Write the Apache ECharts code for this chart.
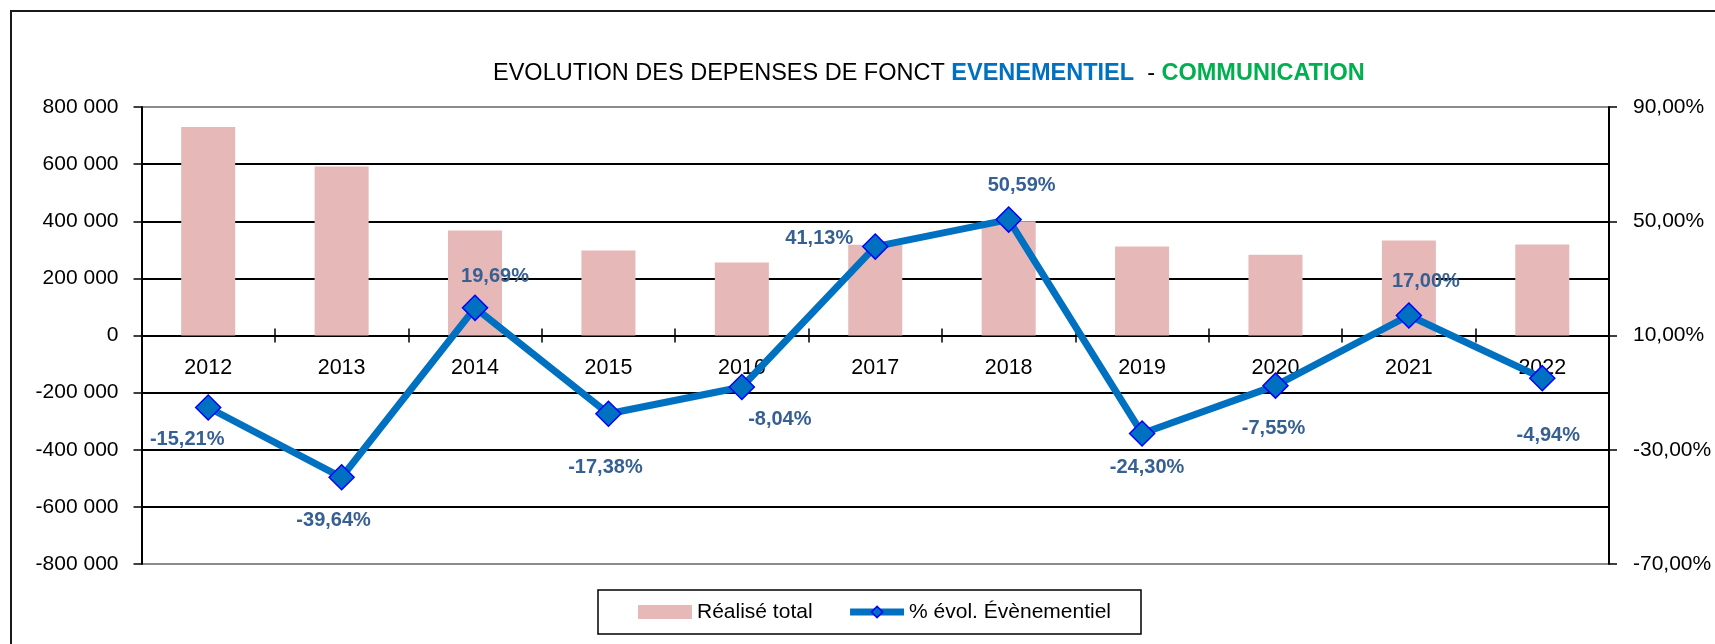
<!DOCTYPE html>
<html>
<head>
<meta charset="utf-8">
<script src="https://cdn.jsdelivr.net/npm/echarts@6/dist/echarts.min.js"></script>
<style>
html,body{margin:0;padding:0;background:#fff;}
#chart{width:1715px;height:644px;}
</style>
</head>
<body>
<div id="chart"></div>
<script>
const years = ['2012','2013','2014','2015','2016','2017','2018','2019','2020','2021','2022'];
const realiseTotal = [730000, 592000, 368000, 298000, 256000, 318000, 400000, 312000, 283000, 333000, 319000];
const evolEvenementiel = [-15.21, -39.64, 19.69, -17.38, -8.04, 41.13, 50.59, -24.30, -7.55, 17.00, -4.94];
const leftTicks = [-800000, -600000, -400000, -200000, 0, 200000, 400000, 600000, 800000];
const rightTicks = [-70, -30, 10, 50, 90];

// label nudges (style only): offset of each data label from its marker centre
const labelNudge = [[-21,32],[-8,43],[20,-31],[-3,54],[38,32],[-56,-8],[13,-34],[5,34],[-2,43],[17,-34],[6,57]];

const FONT = "'Liberation Sans', Arial, sans-serif";
const GRID_TOP = 107, GRID_BOTTOM = 80, CHART_H = 644;
// distance from plot bottom to the zero line (zero is the middle of -800k..800k)
const ZERO_OFFSET = -((CHART_H - GRID_TOP - GRID_BOTTOM) / 2);

function fmtThousands(v){
  if (v === 0) return '0';
  const s = Math.abs(v).toString().replace(/\B(?=(\d{3})+(?!\d))/g, ' ');
  return (v < 0 ? '-' : '') + s;
}
function fmtPct(v){ return v.toFixed(2).replace('.', ',') + '%'; }

const chart = echarts.init(document.getElementById('chart'), null, {renderer:'canvas'});

const lineData = evolEvenementiel.map((v, i) => ({
  value: v,
  label: { offset: labelNudge[i] }
}));

const option = {
  backgroundColor: '#ffffff',
  animation: false,
  textStyle: { fontFamily: FONT },
  title: {
    left: 488,
    top: 55,
    text: '{n|EVOLUTION DES DEPENSES DE FONCT }{b|EVENEMENTIEL}{n|  - }{g|COMMUNICATION}',
    textStyle: {
      fontWeight: 'normal',
      rich: {
        n: { fontFamily: FONT, fontSize: 23.5, fontWeight: 'normal', color: '#000', lineHeight: 28 },
        b: { fontFamily: FONT, fontSize: 23.5, fontWeight: 'bold', color: '#0070C0', lineHeight: 28 },
        g: { fontFamily: FONT, fontSize: 23.5, fontWeight: 'bold', color: '#00B050', lineHeight: 28 }
      }
    }
  },
  graphic: [{
    type: 'rect',
    shape: { x: 11, y: 11, width: 1720, height: 700 },
    style: { fill: null, stroke: '#1a1a1a', lineWidth: 2 },
    silent: true, z: 100
  }],
  legend: {
    left: 598,
    top: 590,
    padding: [11, 30, 11, 40],
    borderColor: '#000',
    borderWidth: 1.5,
    itemGap: 34,
    itemWidth: 54,
    itemHeight: 14,
    textStyle: { fontFamily: FONT, fontSize: 21, color: '#000', lineHeight: 22, height: 22 },
    data: [
      { name: 'Réalisé total', icon: 'rect', itemStyle: { color: '#E6B8B7' } },
      { name: '% évol. Évènementiel',
        lineStyle: { color: '#0070C0', width: 7 },
        itemStyle: { color: '#0070C0', borderColor: '#0000FF', borderWidth: 1.5 } }
    ]
  },
  grid: {
    left: 141.5,
    right: 106,
    top: GRID_TOP,
    bottom: GRID_BOTTOM,
    containLabel: false
  },
  xAxis: [
    {
      type: 'category',
      data: years,
      position: 'bottom',
      offset: ZERO_OFFSET,
      axisLine: { onZero: false, lineStyle: { color: '#000', width: 2 } },
      axisTick: { show: true, inside: false, length: 7, lineStyle: { color: '#000', width: 1.5 } },
      axisLabel: { fontFamily: FONT, fontSize: 21.5, color: '#000', margin: 22 },
      splitLine: { show: false }
    },
    {
      type: 'category',
      data: years,
      position: 'bottom',
      offset: ZERO_OFFSET,
      axisLine: { show: false, onZero: false },
      axisTick: { show: true, inside: true, length: 7, lineStyle: { color: '#000', width: 1.5 } },
      axisLabel: { show: false },
      splitLine: { show: false }
    }
  ],
  yAxis: [
    {
      type: 'value',
      min: -800000,
      max: 800000,
      interval: 200000,
      position: 'left',
      axisLine: { show: true, lineStyle: { color: '#000', width: 2 } },
      axisTick: { show: true, length: 8, lineStyle: { color: '#000', width: 1.5 } },
      axisLabel: { fontFamily: FONT, fontSize: 21, color: '#000', margin: 23,
        customValues: leftTicks, formatter: fmtThousands },
      splitLine: { show: true, lineStyle: { color: ['#8c8c8c','#000','#000','#000','#000','#000','#000','#000','#8c8c8c'], width: 2 } }
    },
    {
      type: 'value',
      min: -70,
      max: 90,
      position: 'right',
      axisLine: { show: true, lineStyle: { color: '#000', width: 2 } },
      axisTick: { show: true, length: 8, customValues: rightTicks, lineStyle: { color: '#000', width: 1.5 } },
      axisLabel: { fontFamily: FONT, fontSize: 21, color: '#000', margin: 24,
        customValues: rightTicks, formatter: fmtPct },
      splitLine: { show: false }
    }
  ],
  series: [
    {
      name: 'Réalisé total',
      type: 'bar',
      xAxisIndex: 0,
      yAxisIndex: 0,
      data: realiseTotal,
      barWidth: '40.5%',
      itemStyle: { color: '#E6B8B7' },
      z: 2
    },
    {
      name: '% évol. Évènementiel',
      type: 'line',
      xAxisIndex: 0,
      yAxisIndex: 1,
      data: lineData,
      symbol: 'diamond',
      symbolSize: [25, 25],
      lineStyle: { color: '#0070C0', width: 7 },
      itemStyle: { color: '#0070C0', borderColor: '#0000FF', borderWidth: 1.5 },
      label: {
        show: true,
        position: 'inside',
        fontFamily: FONT,
        fontSize: 20,
        fontWeight: 'bold',
        color: '#376092',
        formatter: p => fmtPct(p.value)
      },
      z: 5
    }
  ]
};
chart.setOption(option);
</script>
</body>
</html>
